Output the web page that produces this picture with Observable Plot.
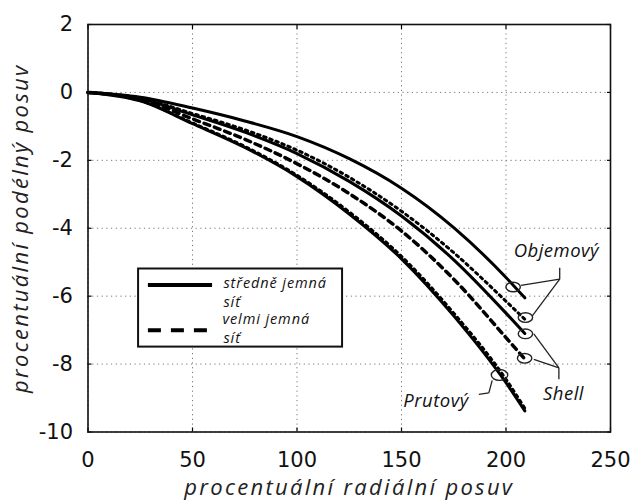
<!DOCTYPE html>
<html>
<head>
<meta charset="utf-8">
<script src="https://cdn.jsdelivr.net/npm/d3@7"></script>
<script src="https://cdn.jsdelivr.net/npm/@observablehq/plot@0.6"></script>
<style>
  html, body { margin: 0; padding: 0; background: #fff; }
</style>
</head>
<body>
<div id="chart"></div>
<script>
// ---- data ----
const xs = [0, 25, 50, 75, 100, 125, 150, 175, 200, 209];
const objemovySolid  = [0, -0.14, -0.46, -0.84, -1.3, -1.95, -2.82, -3.98, -5.45, -6.05];
const objemovyDashed = [0, -0.17, -0.62, -1.1, -1.7, -2.5, -3.5, -4.72, -6.15, -6.68];
const shellSolid     = [0, -0.18, -0.66, -1.17, -1.8, -2.62, -3.64, -4.93, -6.5, -7.1];
const shellDashed    = [0, -0.2, -0.78, -1.38, -2.1, -2.98, -4.08, -5.5, -7.22, -7.85];
const prutovySolid   = [0, -0.25, -0.92, -1.62, -2.48, -3.58, -4.9, -6.58, -8.55, -9.38];
const prutovyDashed  = [0, -0.24, -0.9, -1.59, -2.44, -3.52, -4.83, -6.5, -8.45, -9.3];

const xTicks = [0, 50, 100, 150, 200, 250];
const yTicks = [-10, -8, -6, -4, -2, 0, 2];

const xTitle = "procentuální radiální posuv";
const yTitle = "procentuální podélný posuv";

// legend (positions in data units)
const legendBox = [{x1: 24.2, x2: 121.8, y1: -5.2, y2: -7.5}];
const legendSamples = [
  {x1: 28.9, x2: 59.6, y: -5.67, kind: "solid"},
  {x1: 28.9, x2: 57.7, y: -7.0, kind: "dashed"}
];
const legendTexts = [
  {x: 64.8, y: -5.61, text: "středně jemná"},
  {x: 64.8, y: -6.17, text: "síť"},
  {x: 64.3, y: -6.68, text: "velmi jemná"},
  {x: 64.8, y: -7.24, text: "síť"}
];

// annotations (data units)
const annotationLabels = [
  {x: 224.1, y: -4.67, text: "Objemový"},
  {x: 227.5, y: -8.89, text: "Shell"},
  {x: 166.5, y: -9.09, text: "Prutový"}
];
const annotationEllipses = [
  {x: 203.4, y: -5.73, r: 5},
  {x: 209.3, y: -6.63, r: 5},
  {x: 209.3, y: -7.11, r: 5},
  {x: 208.9, y: -7.83, r: 5},
  {x: 196.9, y: -8.32, r: 6.5}
];
const leaderLines = [
  {x1: 225.7, y1: -5.16, x2: 225.7, y2: -5.50},
  {x1: 225.7, y1: -5.50, x2: 207.2, y2: -5.68},
  {x1: 225.7, y1: -5.50, x2: 212.6, y2: -6.58},
  {x1: 213.3, y1: -7.11, x2: 225.3, y2: -8.11},
  {x1: 213.3, y1: -7.86, x2: 225.3, y2: -8.11},
  {x1: 225.3, y1: -8.11, x2: 225.3, y2: -8.45},
  {x1: 193.4, y1: -8.48, x2: 191.8, y2: -8.85},
  {x1: 191.8, y1: -8.85, x2: 187.0, y2: -8.89}
];

// ---- build table ----
const seriesDefs = [
  {name: "Objemový-solid", values: objemovySolid},
  {name: "Objemový-dashed", values: objemovyDashed},
  {name: "Shell-solid", values: shellSolid},
  {name: "Shell-dashed", values: shellDashed},
  {name: "Prutový-solid", values: prutovySolid},
  {name: "Prutový-dashed", values: prutovyDashed}
];
const rows = seriesDefs.flatMap(s => s.values.map((v, i) => ({series: s.name, x: xs[i], y: v})));
const pick = name => rows.filter(d => d.series === name);

// ellipse symbol (wider than tall)
const ellipseSymbol = {
  draw(ctx, size) {
    const r = Math.sqrt(size / Math.PI) * 1.6, a = r * 1.5, b = r, k = 0.5523;
    ctx.moveTo(a, 0);
    ctx.bezierCurveTo(a, k * b, k * a, b, 0, b);
    ctx.bezierCurveTo(-k * a, b, -a, k * b, -a, 0);
    ctx.bezierCurveTo(-a, -k * b, -k * a, -b, 0, -b);
    ctx.bezierCurveTo(k * a, -b, a, -k * b, a, 0);
    ctx.closePath();
  }
};

const sans = "'Open Sans', Lato, sans-serif";
const tickFont = "'DejaVu Sans', sans-serif";
const crv = "monotone-x";

const chart = Plot.plot({
  width: 634,
  height: 500,
  marginLeft: 87.5,
  marginRight: 24,
  marginTop: 24,
  marginBottom: 68.5,
  style: {background: "#fff", color: "#000", overflow: "visible"},
  x: {domain: [0, 250], ticks: xTicks},
  y: {domain: [-10, 2], ticks: yTicks},
  marks: [
    Plot.gridX(xTicks, {stroke: "#777", strokeOpacity: 1, strokeDasharray: "1.2,3.5", strokeWidth: 1}),
    Plot.gridY(yTicks, {stroke: "#777", strokeOpacity: 1, strokeDasharray: "1.2,3.5", strokeWidth: 1}),
    // inward ticks on all four sides
    Plot.axisX(xTicks, {anchor: "bottom", tickSize: -4, tickFormat: () => "", label: null, strokeWidth: 1.2}),
    Plot.axisX(xTicks, {anchor: "top", tickSize: -4, tickFormat: () => "", label: null, strokeWidth: 1.2}),
    Plot.axisY(yTicks, {anchor: "left", tickSize: -4, tickFormat: () => "", label: null, strokeWidth: 1.2}),
    Plot.axisY(yTicks, {anchor: "right", tickSize: -4, tickFormat: () => "", label: null, strokeWidth: 1.2}),
    // tick labels
    Plot.text(xTicks, {x: d => d, frameAnchor: "bottom", dy: 28.5, textAnchor: "middle", lineAnchor: "middle",
      text: d => String(d), fontSize: 21, fontFamily: tickFont, fill: "#111"}),
    Plot.text(yTicks, {y: d => d, frameAnchor: "left", dx: -15, textAnchor: "end", lineAnchor: "middle",
      text: d => String(d), fontSize: 21, fontFamily: tickFont, fill: "#111"}),
    // axis titles
    Plot.text([xTitle], {frameAnchor: "bottom", dy: 56, textAnchor: "middle", lineAnchor: "middle", fontSize: 22,
      fontFamily: sans, fontStyle: "italic", fill: "#222"}),
    Plot.text([yTitle], {frameAnchor: "left", dx: -67, rotate: -90, textAnchor: "middle", lineAnchor: "middle", fontSize: 22,
      fontFamily: sans, fontStyle: "italic", fill: "#222"}),
    // curves
    Plot.line(pick("Objemový-solid"), {x: "x", y: "y", curve: crv, stroke: "#000", strokeWidth: 3}),
    Plot.line(pick("Objemový-dashed"), {x: "x", y: "y", curve: crv, stroke: "#000", strokeWidth: 3, strokeDasharray: "2.5,4"}),
    Plot.line(pick("Shell-solid"), {x: "x", y: "y", curve: crv, stroke: "#000", strokeWidth: 3}),
    Plot.line(pick("Shell-dashed"), {x: "x", y: "y", curve: crv, stroke: "#000", strokeWidth: 3.5, strokeDasharray: "6,5"}),
    Plot.line(pick("Prutový-dashed"), {x: "x", y: "y", curve: crv, stroke: "#000", strokeWidth: 3, strokeDasharray: "2.5,4"}),
    Plot.line(pick("Prutový-solid"), {x: "x", y: "y", curve: crv, stroke: "#000", strokeWidth: 3}),
    // legend
    Plot.rect(legendBox, {x1: "x1", x2: "x2", y1: "y1", y2: "y2", fill: "#fff", stroke: "#111", strokeWidth: 2}),
    Plot.ruleY(legendSamples.filter(d => d.kind === "solid"), {y: "y", x1: "x1", x2: "x2", stroke: "#000", strokeWidth: 4}),
    Plot.ruleY(legendSamples.filter(d => d.kind === "dashed"), {y: "y", x1: "x1", x2: "x2", stroke: "#000", strokeWidth: 4, strokeDasharray: "13,10"}),
    Plot.text(legendTexts, {x: "x", y: "y", text: "text", textAnchor: "start", lineAnchor: "middle",
      fontSize: 14.5, fontFamily: sans, fontStyle: "italic", fill: "#111"}),
    // annotations
    Plot.link(leaderLines, {x1: "x1", y1: "y1", x2: "x2", y2: "y2", stroke: "#222", strokeWidth: 1.3}),
    Plot.dot(annotationEllipses, {x: "x", y: "y", r: "r", symbol: ellipseSymbol, fill: "none", stroke: "#222", strokeWidth: 1.4}),
    Plot.text(annotationLabels, {x: "x", y: "y", text: "text", lineAnchor: "middle",
      fontSize: 18.5, fontFamily: sans, fontStyle: "italic", fill: "#111"}),
    Plot.frame({stroke: "#111", strokeWidth: 1.6})
  ]
});
document.getElementById("chart").appendChild(chart);

// letter-spacing tweaks (style only)
d3.select(chart).selectAll("text").each(function() {
  const t = this.textContent;
  if (t === xTitle || t === yTitle) this.style.letterSpacing = "2.3px";
  if (legendTexts.some(d => d.text === t)) this.style.letterSpacing = "0.9px";
  if (annotationLabels.some(d => d.text === t)) this.style.letterSpacing = "0.5px";
});
</script>
</body>
</html>
